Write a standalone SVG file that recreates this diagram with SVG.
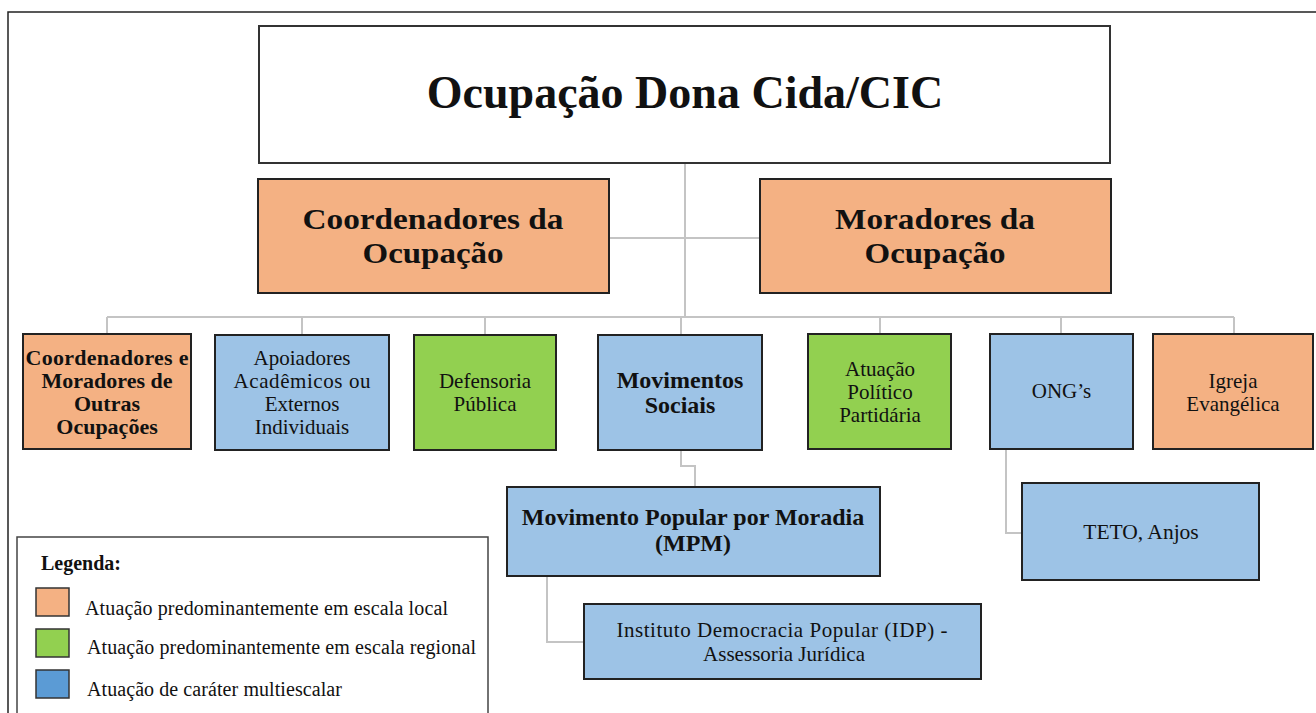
<svg xmlns="http://www.w3.org/2000/svg" width="1316" height="713" viewBox="0 0 1316 713">
<style>
  .t { font-family: "Liberation Serif", "Times New Roman", serif; fill: #111; text-anchor: middle; }
  .b { font-weight: bold; }
  .box { stroke: #222; stroke-width: 2; }
  .org { fill: #F4B183; }
  .grn { fill: #92D050; }
  .blu { fill: #9DC3E6; }
  .con { fill: none; stroke: #c4c4c4; stroke-width: 2; }
  .lg { font-family: "Liberation Serif", "Times New Roman", serif; fill: #111; font-size: 20px; }
</style>
<rect x="0" y="0" width="1316" height="713" fill="#fff"/>
<path d="M8,713 V12 H1316" fill="none" stroke="#222" stroke-width="1.5"/>

<g id="connectors">
  <path class="con" d="M685,163 V317"/>
  <path class="con" d="M609,238 H760"/>
  <path class="con" d="M107,317 H1234"/>
  <path class="con" d="M107,317 V334 M302,317 V335 M485,317 V335 M681,317 V335 M880,317 V334 M1061,317 V334 M1234,317 V334"/>
  <path class="con" d="M681,450 V466 H695 V487"/>
  <path class="con" d="M547,576 V642 H584"/>
  <path class="con" d="M1006,449 V533 H1022"/>
</g>

<g id="title">
  <rect x="259" y="26" width="851" height="137" fill="#fff" stroke="#333" stroke-width="2"/>
  <text class="t b" x="685" y="108" font-size="46">Ocupação Dona Cida/CIC</text>
</g>

<g id="coordenadores">
  <rect class="box org" x="258" y="179" width="351" height="114"/>
  <text class="t b" font-size="30"><tspan x="433" y="229" textLength="261" lengthAdjust="spacingAndGlyphs">Coordenadores da</tspan><tspan x="433" y="263" textLength="141" lengthAdjust="spacingAndGlyphs">Ocupação</tspan></text>
</g>

<g id="moradores">
  <rect class="box org" x="760" y="179" width="351" height="114"/>
  <text class="t b" font-size="30"><tspan x="935" y="229" textLength="200" lengthAdjust="spacingAndGlyphs">Moradores da</tspan><tspan x="935" y="263" textLength="141" lengthAdjust="spacingAndGlyphs">Ocupação</tspan></text>
</g>

<g id="outras-ocupacoes">
  <rect class="box org" x="23" y="334" width="168" height="115"/>
  <text class="t b" font-size="22"><tspan x="107" y="365" textLength="163" lengthAdjust="spacing">Coordenadores e</tspan><tspan x="107" y="388">Moradores de</tspan><tspan x="107" y="411">Outras</tspan><tspan x="107" y="434">Ocupações</tspan></text>
</g>

<g id="apoiadores">
  <rect class="box blu" x="215" y="335" width="174" height="115"/>
  <text class="t" font-size="21"><tspan x="302" y="365">Apoiadores</tspan><tspan x="302" y="388" textLength="137" lengthAdjust="spacing">Acadêmicos ou</tspan><tspan x="302" y="411">Externos</tspan><tspan x="302" y="434">Individuais</tspan></text>
</g>

<g id="defensoria">
  <rect class="box grn" x="414" y="335" width="142" height="115"/>
  <text class="t" font-size="21"><tspan x="485" y="388">Defensoria</tspan><tspan x="485" y="411">Pública</tspan></text>
</g>

<g id="movimentos-sociais">
  <rect class="box blu" x="598" y="335" width="164" height="115"/>
  <text class="t b" font-size="24"><tspan x="680" y="388">Movimentos</tspan><tspan x="680" y="413">Sociais</tspan></text>
</g>

<g id="atuacao-politica">
  <rect class="box grn" x="808" y="334" width="143" height="115"/>
  <text class="t" font-size="21"><tspan x="880" y="376">Atuação</tspan><tspan x="880" y="399">Político</tspan><tspan x="880" y="422">Partidária</tspan></text>
</g>

<g id="ongs">
  <rect class="box blu" x="990" y="334" width="143" height="115"/>
  <text class="t" font-size="21" x="1061.5" y="398">ONG’s</text>
</g>

<g id="igreja">
  <rect class="box org" x="1153" y="334" width="160" height="115"/>
  <text class="t" font-size="21"><tspan x="1233" y="388">Igreja</tspan><tspan x="1233" y="411">Evangélica</tspan></text>
</g>

<g id="mpm">
  <rect class="box blu" x="507" y="487" width="373" height="89"/>
  <text class="t b" font-size="24"><tspan x="693" y="525">Movimento Popular por Moradia</tspan><tspan x="693" y="551">(MPM)</tspan></text>
</g>

<g id="idp">
  <rect class="box blu" x="584" y="604" width="397" height="75"/>
  <text class="t" font-size="21"><tspan x="782" y="637" textLength="331" lengthAdjust="spacing">Instituto Democracia Popular (IDP) -</tspan><tspan x="784" y="661" textLength="162" lengthAdjust="spacing">Assessoria Jurídica</tspan></text>
</g>

<g id="teto">
  <rect class="box blu" x="1022" y="483" width="237" height="97"/>
  <text class="t" font-size="21.5" x="1141" y="539">TETO, Anjos</text>
</g>

<g id="legenda">
  <path d="M17,713 V537 H488 V713" fill="none" stroke="#444" stroke-width="1.5"/>
  <text class="lg" font-weight="bold" font-size="21" x="41" y="570">Legenda:</text>
  <rect x="36" y="588" width="33" height="28" fill="#F4B183" stroke="#333" stroke-width="1.5"/>
  <rect x="36" y="629" width="33" height="28" fill="#92D050" stroke="#333" stroke-width="1.5"/>
  <rect x="36" y="670" width="33" height="28" fill="#5B9BD5" stroke="#333" stroke-width="1.5"/>
  <text class="lg" x="85" y="615" textLength="363" lengthAdjust="spacing">Atuação predominantemente em escala local</text>
  <text class="lg" x="87" y="654" textLength="389" lengthAdjust="spacing">Atuação predominantemente em escala regional</text>
  <text class="lg" x="87" y="696" textLength="255" lengthAdjust="spacing">Atuação de caráter multiescalar</text>
</g>
</svg>
